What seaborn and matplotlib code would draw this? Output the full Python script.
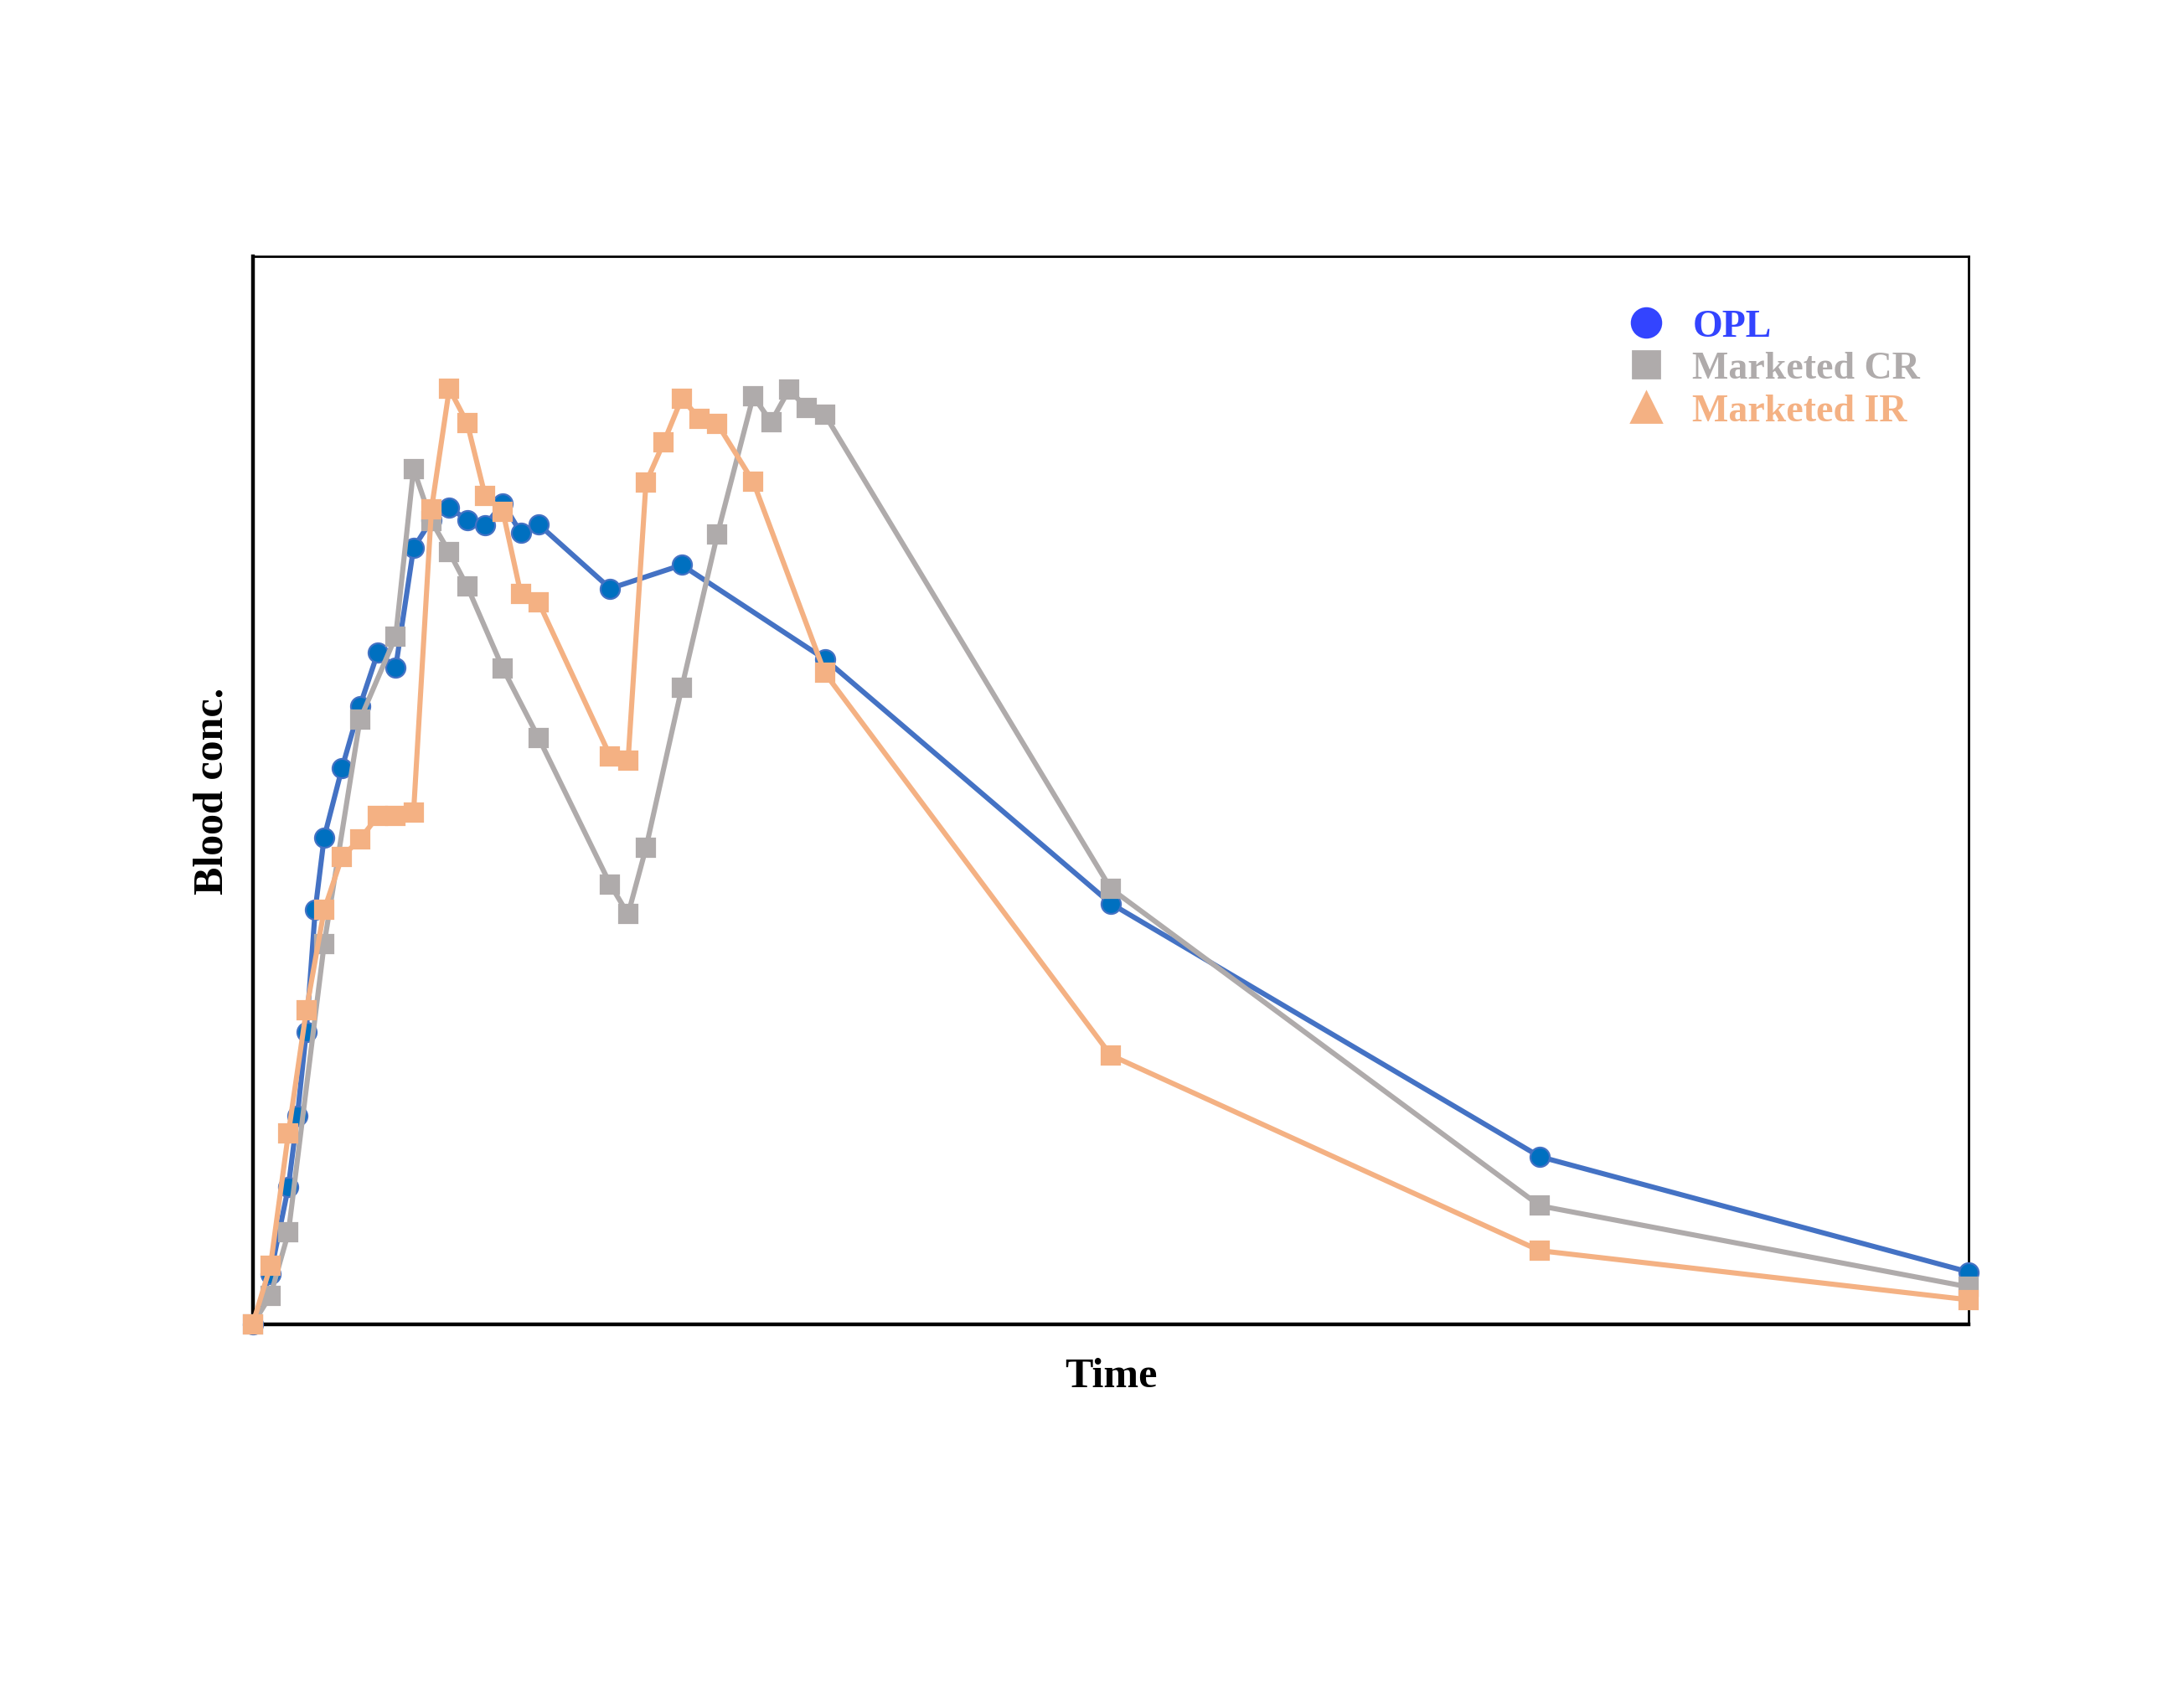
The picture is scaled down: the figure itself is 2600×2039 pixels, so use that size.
"""
Blood concentration vs time, three formulations
"""
import pandas as pd
import seaborn as sns
import matplotlib.pyplot as plt
from matplotlib.lines import Line2D

# time points (h) and blood conc. for each series
opl_time = [0, 0.25, 0.5, 0.625, 0.75, 0.875, 1.0, 1.25, 1.5, 1.75, 2.0, 2.25, 2.5,
            2.75, 3.0, 3.25, 3.5, 3.75, 4.0, 5.0, 6.0, 8.0, 12, 18, 24]
opl_conc = [0, 4.7, 12.9, 19.5, 27.4, 38.8, 45.6, 52.1, 57.9, 62.9, 61.5, 72.7, 75.3,
            76.5, 75.3, 74.8, 76.9, 74.1, 74.9, 68.9, 71.1, 62.3, 39.4, 15.7, 4.9]

cr_time = [0, 0.25, 0.5, 1.0, 1.5, 2.0, 2.25, 2.5, 2.75, 3.0, 3.5, 4.0, 5.0,
           5.25, 5.5, 6.0, 6.5, 7.0, 7.25, 7.5, 7.75, 8.0, 12, 18, 24]
cr_conc = [0, 2.7, 8.6, 35.6, 56.6, 64.4, 80.1, 75.2, 72.3, 69.1, 61.4, 54.9, 41.2,
           38.4, 44.6, 59.6, 74.0, 86.9, 84.5, 87.5, 85.8, 85.2, 40.8, 11.1, 3.5]

ir_time = [0, 0.25, 0.5, 0.75, 1.0, 1.25, 1.5, 1.75, 2.0, 2.25, 2.5, 2.75, 3.0,
           3.25, 3.5, 3.75, 4.0, 5.0, 5.25, 5.5, 5.75, 6.0, 6.25, 6.5, 7.0, 8.0,
           12, 18, 24]
ir_conc = [0, 5.5, 17.9, 29.4, 38.8, 43.8, 45.4, 47.6, 47.6, 47.9, 76.3, 87.6, 84.4,
           77.6, 76.1, 68.4, 67.6, 53.2, 52.8, 78.8, 82.6, 86.7, 84.8, 84.3, 78.9, 61.0,
           25.2, 6.9, 2.3]

series_names = ['OPL', 'Marketed CR', 'Marketed IR']

BLUE_LINE = '#4472C4'
BLUE_FILL = '#0070C0'
GRAY = '#AFABAB'
ORANGE = '#F4B183'
LEGEND_BLUE = '#3344FF'


def build_table():
    frames = []
    for name, t, c in [('OPL', opl_time, opl_conc),
                       ('Marketed CR', cr_time, cr_conc),
                       ('Marketed IR', ir_time, ir_conc)]:
        frames.append(pd.DataFrame({'time': t, 'conc': c, 'series': name}))
    return pd.concat(frames, ignore_index=True)


def main():
    sns.set_theme(style='white')
    plt.rcParams['font.family'] = ['Liberation Serif', 'DejaVu Serif']

    df = build_table()
    fig = plt.figure(figsize=(13, 10.2), dpi=200)
    ax = fig.add_axes([0.116, 0.2245, 0.788, 0.625])

    style = {
        'OPL': dict(color=BLUE_LINE, marker='o', markerfacecolor=BLUE_FILL,
                    markeredgecolor=BLUE_LINE, markersize=8.3, zorder=3),
        'Marketed CR': dict(color=GRAY, marker='s', markerfacecolor=GRAY,
                            markeredgecolor=GRAY, markersize=8.0, zorder=4),
        'Marketed IR': dict(color=ORANGE, marker='s', markerfacecolor=ORANGE,
                            markeredgecolor=ORANGE, markersize=8.0, zorder=5),
    }
    for name in series_names:
        sub = df[df['series'] == name]
        sns.lineplot(data=sub, x='time', y='conc', ax=ax, linewidth=2.2,
                     markeredgewidth=0.8, clip_on=False, legend=False,
                     **style[name])

    ax.set_xlim(0, 24)
    ax.set_ylim(0, 100)
    ax.set_xticks([])
    ax.set_yticks([])
    for side in ['left', 'bottom']:
        ax.spines[side].set_linewidth(1.6)
    for side in ['top', 'right']:
        ax.spines[side].set_linewidth(1.0)
    for sp in ax.spines.values():
        sp.set_color('black')
        sp.set_visible(True)

    ax.set_xlabel('Time', fontsize=18, fontweight='bold', labelpad=14,
                  color='black')
    ax.set_ylabel('Blood conc.', fontsize=18, fontweight='bold', labelpad=9,
                  color='black')

    # legend markers differ from the plotted ones in the original
    handles = [
        Line2D([], [], linestyle='none', marker='o', markersize=12.5,
               color=LEGEND_BLUE),
        Line2D([], [], linestyle='none', marker='s', markersize=11.5,
               color=GRAY),
        Line2D([], [], linestyle='none', marker='^', markersize=13,
               color=ORANGE),
    ]
    ax.legend(handles, series_names, loc='upper left',
              bbox_to_anchor=(0.792, 0.965), frameon=False,
              prop={'size': 16.5, 'weight': 'bold'},
              handlelength=1.0, handletextpad=0.7, labelspacing=0.18,
              borderaxespad=0,
              labelcolor=[LEGEND_BLUE, GRAY, ORANGE])

    fig.savefig('out.png', dpi=200, facecolor='white')


if __name__ == '__main__':
    main()
